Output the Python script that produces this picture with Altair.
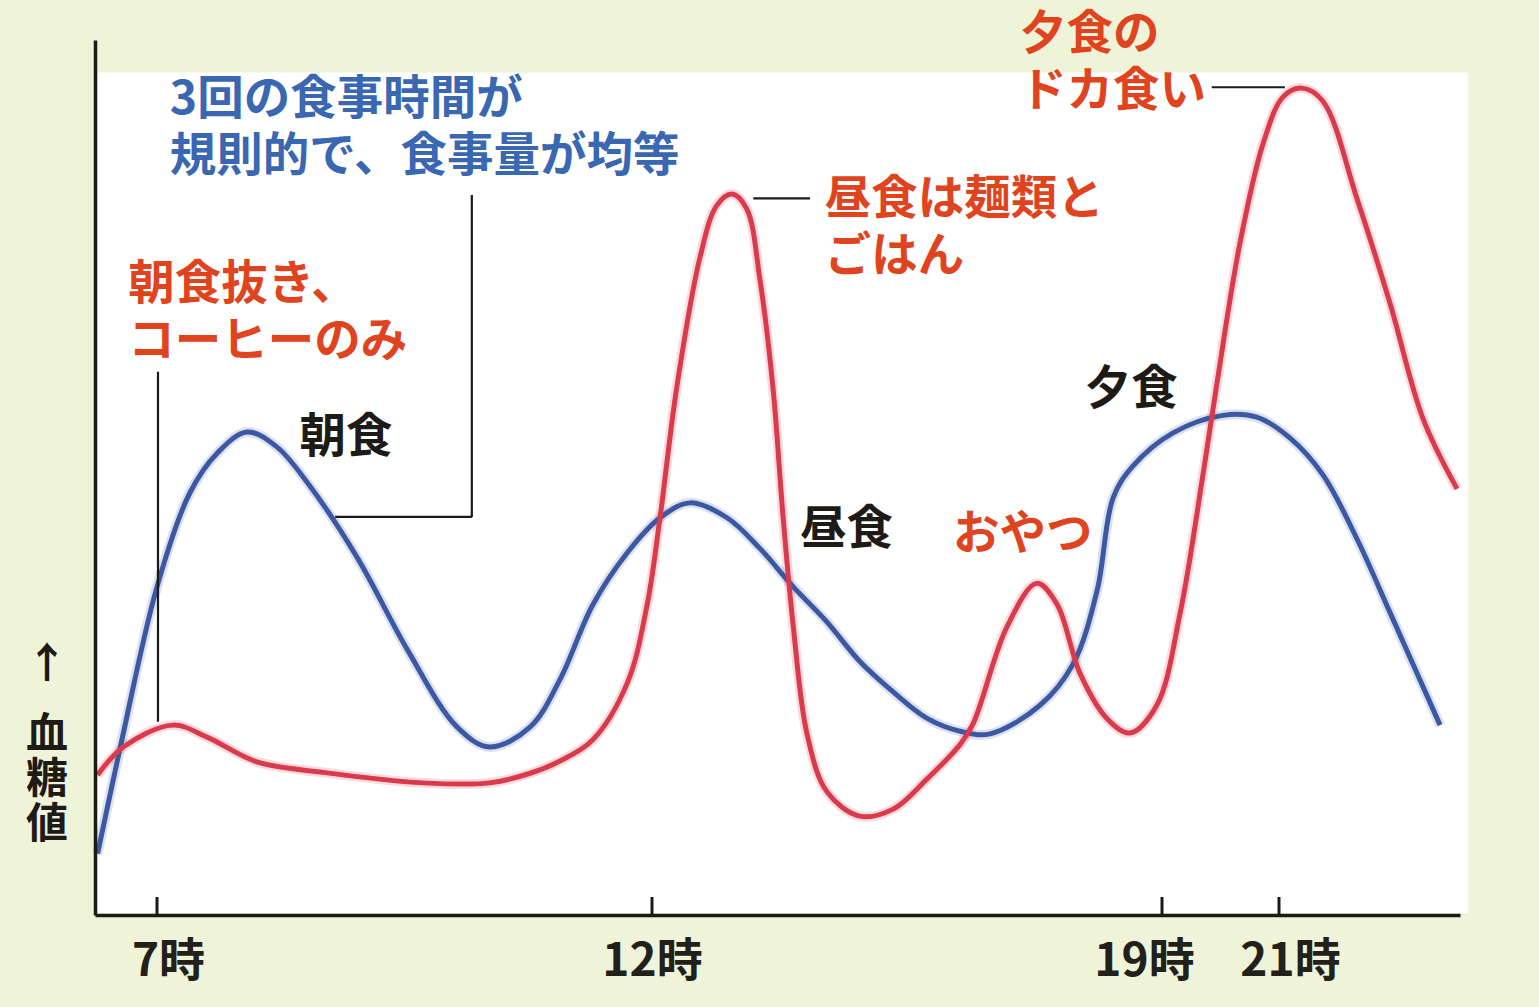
import altair as alt
import pandas as pd

# ---- data (x in hours of day, y in relative blood-glucose level 0-100) ----
blue_hours = [6.40, 6.63, 7.00, 7.33, 7.61, 7.91, 8.21, 8.52, 9.02, 9.53, 10.03, 10.36,
              10.77, 11.07, 11.40, 11.75, 12.11, 12.52, 13.03, 13.48, 13.94, 14.40, 14.85,
              15.31, 15.77, 16.23, 16.64, 17.33, 17.78, 18.11, 18.33, 18.60, 19.19, 20.04,
              20.62, 21.19, 21.75, 22.33, 22.90, 23.75]
blue_level = [7.0, 19.2, 37.5, 48.2, 52.8, 55.2, 53.5, 49.4, 40.9, 30.3, 21.5, 19.2,
              21.5, 26.9, 35.4, 41.4, 45.4, 47.1, 45.4, 41.9, 37.5, 33.5, 29.0,
              25.5, 22.5, 21.0, 20.7, 24.0, 28.7, 37.1, 47.7, 51.3, 55.1, 57.1,
              56.9, 54.5, 50.3, 43.0, 34.5, 21.7]

red_hours = [6.40, 6.66, 7.16, 7.51, 8.01, 8.68, 9.69, 10.36, 10.77, 11.07, 11.40, 11.75,
             11.95, 12.11, 12.34, 12.66, 12.89, 13.10, 13.30, 13.48, 13.66, 13.80, 13.94,
             14.13, 14.40, 14.85, 15.31, 15.77, 16.23, 16.41, 16.87, 17.28, 17.56, 17.87,
             18.25, 18.56, 18.93, 19.31, 19.70, 19.94, 20.33, 20.73, 21.07, 21.39, 21.75,
             22.33, 22.90, 23.46, 24.04]
red_level = [16.0, 19.2, 21.7, 20.3, 17.5, 16.3, 15.1, 15.1, 16.2, 17.6, 20.0, 26.5,
             35.4, 45.4, 60.3, 75.2, 81.1, 82.4, 80.7, 72.7, 60.3, 45.4, 32.9,
             20.6, 14.1, 11.3, 12.1, 15.5, 19.5, 21.9, 32.9, 37.9, 35.5, 27.7,
             22.4, 20.8, 24.0, 34.5, 50.3, 60.8, 76.7, 88.2, 93.5, 94.5, 93.0,
             81.9, 69.8, 56.7, 48.7]

tick_hours = [7, 12, 19, 21]
axis_domain_hours = [6.374, 7, 12, 19, 21, 24.09]

ann_text = ["3回の食事時間が\n規則的で、食事量が均等", "朝食抜き、\nコーヒーのみ", "朝食", "昼食",
            "おやつ", "夕食", "昼食は麺類と\nごはん", "夕食の\nドカ食い"]
ann_hour = [7.13, 6.71, 8.44, 14.03, 16.13, 17.94, 14.37, 17.05]
ann_level = [93.1, 72.0, 54.5, 44.0, 43.4, 60.0, 81.7, 100.6]
ann_group = ["regular", "skip", "plain", "plain", "skip", "plain", "skip", "skip"]

lead_h = [10.18, 8.80, 7.01, 13.39, 19.85]
lead_h2 = [10.18, 10.18, 7.01, 14.17, 21.10]
lead_v = [82.3, 45.5, 62.1, 81.9, 94.6]
lead_v2 = [45.5, 45.5, 22.1, 81.9, 94.6]

panel_h = [6.40]
panel_h2 = [24.23]
panel_v = [0.2]
panel_v2 = [96.3]

ylabel_h = [5.89, 5.89]
ylabel_v = [28.6, 20.6]
ylabel_text = ["↑", "血\n糖\n値"]

# ---- tables ----
curves = pd.concat([
    pd.DataFrame({"h": blue_hours, "v": blue_level, "series": "regular"}),
    pd.DataFrame({"h": red_hours, "v": red_level, "series": "skip"}),
])
ann = pd.DataFrame({"h": ann_hour, "v": ann_level, "text": ann_text, "grp": ann_group})
leads = pd.DataFrame({"h": lead_h, "h2": lead_h2, "v": lead_v, "v2": lead_v2})
panel = pd.DataFrame({"h": panel_h, "h2": panel_h2, "v": panel_v, "v2": panel_v2})
ticks = pd.DataFrame({"h": tick_hours})
ylab = pd.DataFrame({"h": ylabel_h, "v": ylabel_v, "text": ylabel_text})

FONT = "Noto Sans CJK JP"
W, H = 1365, 875

xs = alt.Scale(domain=axis_domain_hours, range=[0, 62, 557, 1067, 1184, W], nice=False, zero=False)
ys = alt.Scale(domain=[0, 100], nice=False, zero=False)

label_shift = {
    "condition": [
        {"test": "datum.value == 7", "value": 11},
        {"test": "datum.value == 19", "value": -18},
        {"test": "datum.value == 21", "value": 11},
    ],
    "value": 0,
}

xaxis = alt.Axis(values=tick_hours, labelExpr="datum.value + '時'", ticks=False, grid=False,
                 domain=True, domainColor="#1c1a17", domainWidth=3.5,
                 labelFont=FONT, labelFontSize=46, labelFontWeight="bold", labelColor="#231f1a",
                 labelPadding=24, labelOffset=label_shift,
                 labelFlush=False, labelOverlap=False, title=None, zindex=1)
yaxis = alt.Axis(ticks=False, labels=False, grid=False, domain=True, domainColor="#1c1a17",
                 domainWidth=3.5, title=None, zindex=1)

X = lambda: alt.X("h:Q", scale=xs, axis=xaxis)
Y = lambda: alt.Y("v:Q", scale=ys, axis=yaxis)

panel_layer = alt.Chart(panel).mark_rect(fill="white").encode(
    x=X(), x2="h2:Q", y=Y(), y2="v2:Q")

line_colors = alt.Scale(domain=["regular", "skip"], range=["#3d58a3", "#d93a4c"])

halo = alt.Chart(curves).mark_line(interpolate="catmull-rom", strokeWidth=10, opacity=0.18).encode(
    x=X(), y=Y(), detail="series:N",
    color=alt.Color("series:N", scale=line_colors, legend=None))
core = alt.Chart(curves).mark_line(interpolate="catmull-rom", strokeWidth=5).encode(
    x=X(), y=Y(), detail="series:N",
    color=alt.Color("series:N", scale=line_colors, legend=None))

tick_layer = alt.Chart(ticks).mark_rule(color="#1c1a17", strokeWidth=3).encode(
    x=X(), y=alt.value(H), y2=alt.value(H - 18))

lead_layer = alt.Chart(leads).mark_rule(color="#1c1a17", strokeWidth=2.2).encode(
    x=X(), x2="h2:Q", y=Y(), y2="v2:Q")

text_layer = alt.Chart(ann).mark_text(
    align="left", baseline="middle", lineBreak="\n", lineHeight=57,
    font=FONT, fontSize=46.5, fontWeight="bold").encode(
    x=X(), y=Y(), text="text:N",
    color=alt.Color("grp:N", scale=alt.Scale(domain=["regular", "skip", "plain"],
                                             range=["#3a67b1", "#e0441f", "#1e1a16"]),
                    legend=None))

ylab_layer = alt.Chart(ylab).mark_text(
    align="center", baseline="middle", lineBreak="\n", lineHeight=45,
    font=FONT, fontSize=42, fontWeight="bold", color="#1e1a16").encode(
    x=X(), y=Y(), text="text:N")

chart = alt.layer(panel_layer, halo, core, tick_layer, lead_layer, text_layer, ylab_layer).resolve_scale(
    color="independent"
).properties(
    width=W, height=H,
    autosize=alt.AutoSizeParams(type="none"),
    padding={"left": 95, "top": 40, "right": 79, "bottom": 92},
    background="#eff3d8",
).configure_view(stroke=None)

chart.save("out.html", embed_options={"renderer": "svg", "actions": False})
